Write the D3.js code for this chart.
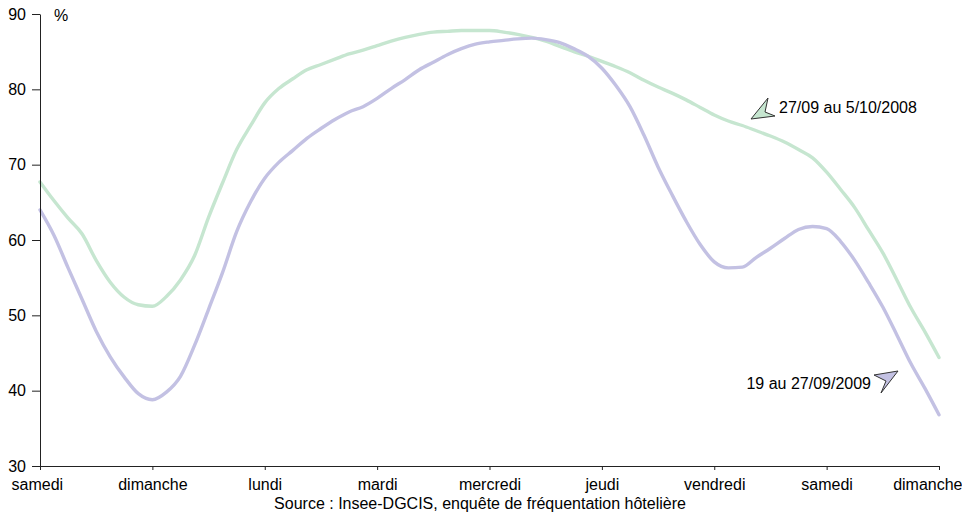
<!DOCTYPE html>
<html><head><meta charset="utf-8">
<script src="https://cdn.jsdelivr.net/npm/d3@7/dist/d3.min.js"></script>
<style>
body{margin:0;background:#fff;}
text{font-family:"Liberation Sans",Arial,sans-serif;fill:#000;}
</style></head>
<body><svg id="chart" width="962" height="518"></svg>
<script>
// Time in hours since Saturday 00:00 (3-hour steps)
const hours = d3.range(0, 193, 3);
const dayLabels = ["samedi","dimanche","lundi","mardi","mercredi","jeudi","vendredi","samedi","dimanche"];
const yTicks = [30,40,50,60,70,80,90];
const series2008 = [67.7,65.2,62.9,60.8,57.3,54.4,52.4,51.4,51.2,52.5,54.7,57.9,63.0,67.6,72.0,75.2,78.2,80.1,81.4,82.6,83.3,84.0,84.7,85.2,85.8,86.4,86.9,87.3,87.6,87.7,87.8,87.8,87.8,87.6,87.3,86.9,86.4,85.7,85.0,84.4,83.7,83.0,82.2,81.2,80.3,79.5,78.6,77.6,76.6,75.8,75.2,74.5,73.8,73.0,72.0,70.9,69.0,66.7,64.3,61.3,58.3,54.7,51.0,47.8,44.4];
const series2009 = [64.0,60.6,56.3,52.1,47.9,44.5,41.8,39.6,38.8,39.8,41.9,46.0,50.8,55.7,61.1,65.1,68.2,70.3,71.9,73.5,74.8,76.0,77.0,77.7,78.8,80.1,81.3,82.6,83.6,84.6,85.4,86.0,86.3,86.5,86.7,86.8,86.6,86.2,85.4,84.4,82.8,80.5,77.7,73.9,69.7,66.0,62.5,59.4,57.1,56.3,56.4,57.7,58.9,60.2,61.4,61.8,61.5,59.8,57.3,54.3,51.1,47.4,43.6,40.3,36.8];
const seriesNames = ["27/09 au 5/10/2008","19 au 27/09/2009"];
const colors = ["#c6e6d0","#c3c1e3"];
const sourceText = "Source : Insee-DGCIS, enquête de fréquentation hôtelière";

const svg = d3.select("#chart");
const x = d3.scaleLinear().domain([0,192]).range([40,939]);
const y = d3.scaleLinear().domain([30,90]).range([466,14]);

// lines
const line = d3.line().x((d,i)=>x(hours[i])).y(d=>y(d)).curve(d3.curveMonotoneX);
[series2008, series2009].forEach((s,k)=>{
  svg.append("path").attr("d", line(s)).attr("fill","none")
    .attr("stroke", colors[k]).attr("stroke-width",3.4).attr("stroke-linejoin","round").attr("stroke-linecap","round");
});

// y axis
const yAxis = d3.axisLeft(y).tickValues(yTicks).tickSize(8).tickSizeOuter(0).tickPadding(6);
const gy = svg.append("g").attr("transform","translate(40,0)").call(yAxis);
gy.selectAll("text").style("font-size","16px").style("font-family","Liberation Sans, Arial, sans-serif");
gy.selectAll("line,path").attr("stroke","#222");

// x axis
const xAxis = d3.axisBottom(x).tickValues(d3.range(0,193,24)).tickSize(4).tickSizeOuter(0)
  .tickFormat((d,i)=>dayLabels[i]).tickPadding(9);
const gx = svg.append("g").attr("transform","translate(0,466)").call(xAxis);
gx.selectAll("text").style("font-size","16px").style("font-family","Liberation Sans, Arial, sans-serif");
gx.selectAll("line,path").attr("stroke","#222");
gx.selectAll(".tick text").filter((d,i)=>i===8).attr("text-anchor","end").attr("x",962-939);
gx.selectAll(".tick text").filter((d,i)=>i===0).attr("text-anchor","start").attr("x",11-40);

// % label
svg.append("text").attr("x",54).attr("y",21).style("font-size","16px").text("%");

// source
svg.append("text").attr("x",480).attr("y",509).attr("text-anchor","middle").style("font-size","16px").text(sourceText);

// annotations
svg.append("polygon").attr("points","768,98 765,112 775,116 751,119")
  .attr("fill",colors[0]).attr("stroke","#333").attr("stroke-width",1).attr("stroke-linejoin","miter");
svg.append("text").attr("x",779).attr("y",113).style("font-size","16px").text(seriesNames[0]);
svg.append("polygon").attr("points","898,371 874,375 886,381 881,393")
  .attr("fill",colors[1]).attr("stroke","#333").attr("stroke-width",1);
svg.append("text").attr("x",871).attr("y",389).attr("text-anchor","end").style("font-size","16px").text(seriesNames[1]);
</script></body></html>
